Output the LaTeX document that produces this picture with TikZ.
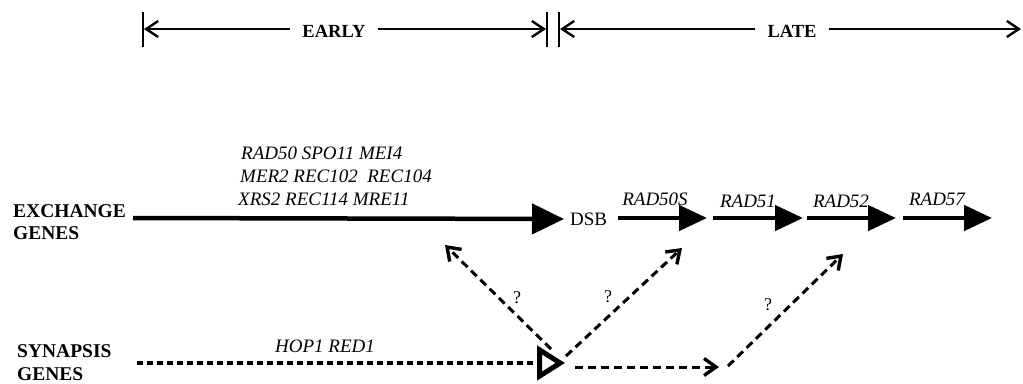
\documentclass[tikz,border=0pt]{standalone}
\usepackage{fontspec}
\setmainfont{Liberation Serif}
\usetikzlibrary{arrows.meta}

\begin{document}
\begin{tikzpicture}[x=1pt,y=-1pt,
  side/.style={font=\fontsize{19.5}{22}\selectfont\bfseries, inner sep=0pt, anchor=base west},
  phase/.style={font=\fontsize{18.5}{20}\selectfont\bfseries, inner sep=0pt, inner xsep=12pt},
  gene/.style={font=\fontsize{19}{22}\selectfont\itshape, inner sep=0pt},
  qmark/.style={font=\fontsize{18}{20}\selectfont, inner sep=0pt},
  span/.style={line width=2pt, -{Straight Barb[length=12pt,width=16pt,line width=2.4pt]}},
  bar/.style={line width=2.4pt},
  mainarrow/.style={line width=4.5pt, -{Triangle[length=32pt,width=30pt]}},
  stagearrow/.style={line width=4.5pt, -{Triangle[length=28pt,width=25pt]}},
  synline/.style={line width=4.5pt, dash pattern=on 6pt off 4pt,
    -{Triangle[open,length=28pt,width=34pt,line width=5pt]}},
  link/.style={line width=3pt, dash pattern=on 8pt off 5pt,
    -{Straight Barb[length=12pt,width=17pt,line width=3.4pt]}}
]
\useasboundingbox (0,0) rectangle (1023,383);

% ---- time axis: EARLY | LATE ----
\coordinate (b1) at (143,29);
\coordinate (b2) at (547,29);
\coordinate (b3) at (559,29);
\coordinate (b4) at (1021,29);
\node[phase] (early) at (334,31) {EARLY};
\node[phase] (late) at (792,31) {LATE};
\foreach \b in {b1,b2,b3}
  \draw[bar] ([yshift=17pt]\b) -- ([yshift=-18pt]\b);
\draw[span] (early.west |- b1) -- ([xshift=1pt]b1);
\draw[span] (early.east |- b2) -- ([xshift=-1pt]b2);
\draw[span] (late.west |- b3) -- ([xshift=1pt]b3);
\draw[span] (late.east |- b4) -- (b4);

% ---- exchange genes ----
\node[side] (ex1) at (13,217) {EXCHANGE};
\node[side] (ex2) at (13,239) {GENES};
\node[gene, anchor=base west] (g1) at (241,159) {RAD50 SPO11 MEI4};
\node[gene, anchor=base west] (g2) at (240,182) {MER2 REC102\ \ REC104};
\node[gene, anchor=base west] (g3) at (238,205) {XRS2 REC114 MRE11};
\coordinate (x0) at (133,218);
\node[font=\fontsize{19}{21}\selectfont, inner sep=0pt, anchor=west] (dsb) at (570,219) {DSB};
\draw[mainarrow] (x0) -- ([xshift=-6pt]dsb.west);

% late stage arrows
\coordinate (r1s) at (618,218); \coordinate (r1e) at (707,218);
\coordinate (r2s) at (713,218); \coordinate (r2e) at (803,218);
\coordinate (r3s) at (807,218); \coordinate (r3e) at (896,218);
\coordinate (r4s) at (903,218); \coordinate (r4e) at (992,218);
\draw[stagearrow] (r1s) -- (r1e);
\draw[stagearrow] (r2s) -- (r2e);
\draw[stagearrow] (r3s) -- (r3e);
\draw[stagearrow] (r4s) -- (r4e);
\node[gene, anchor=base] (l1) at (655,205) {RAD50S};
\node[gene, anchor=base] (l2) at (748,207) {RAD51};
\node[gene, anchor=base] (l3) at (841,207) {RAD52};
\node[gene, anchor=base] (l4) at (937,205) {RAD57};

% ---- synapsis genes ----
\node[side] (sy1) at (17,357) {SYNAPSIS};
\node[side] (sy2) at (17,380) {GENES};
\node[gene, anchor=base] (hop) at (325,352) {HOP1 RED1};
\coordinate (s0) at (137,363);
\coordinate (tri) at (565,363);
\draw[synline] (s0) -- (tri);

% ---- possible links ----
\coordinate (dl0) at (551,349); \coordinate (dl1) at (445,245);
\coordinate (dr0) at (566,356); \coordinate (dr1) at (682,248);
\coordinate (dh0) at (575,367); \coordinate (dh1) at (719,367);
\coordinate (dq0) at (728,366); \coordinate (dq1) at (843,254);
\draw[link] (dl0) -- (dl1);
\draw[link] (dr0) -- (dr1);
\draw[link] (dh0) -- (dh1);
\draw[link] (dq0) -- (dq1);
\node[qmark] (q1) at (517,298) {?};
\node[qmark] (q2) at (608,297) {?};
\node[qmark] (q3) at (768,305) {?};
\end{tikzpicture}
\end{document}
